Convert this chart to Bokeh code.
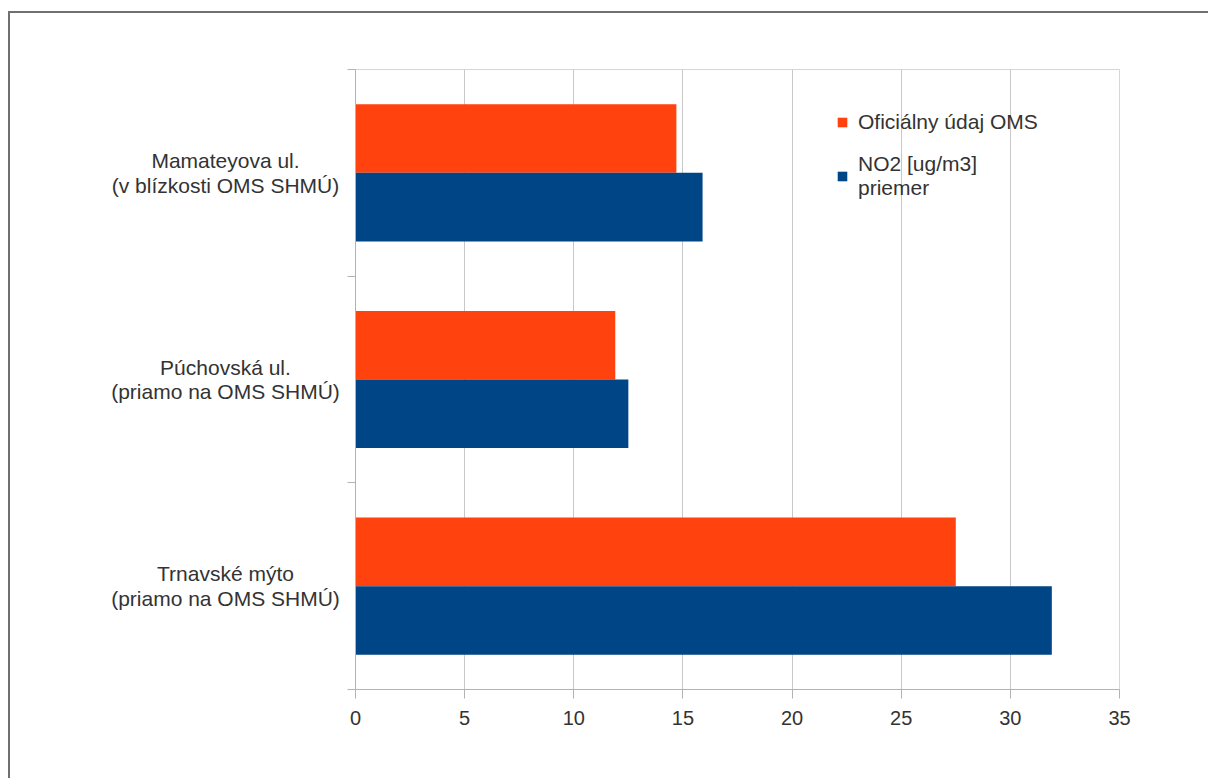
from bokeh.plotting import figure
from bokeh.models import Range1d, FixedTicker, Legend, LegendItem
from bokeh.layouts import row
from bokeh.embed import file_html
from bokeh.resources import INLINE

# ---- data ----
categories = ["Trnavské mýto\n(priamo na OMS SHMÚ)",
              "Púchovská ul.\n(priamo na OMS SHMÚ)",
              "Mamateyova ul.\n(v blízkosti OMS SHMÚ)"]
official = [27.5, 11.9, 14.7]      # Oficiálny údaj OMS
no2_mean = [31.9, 12.5, 15.9]      # NO2 [ug/m3] priemer
x_ticks = [0, 5, 10, 15, 20, 25, 30, 35]
series_names = ["Oficiálny údaj OMS", "NO2 [ug/m3]\npriemer"]

ORANGE = "#ff420e"
BLUE = "#004586"
FONT = "Liberation Sans"
TXT = "#333333"

n = len(categories)
centers = [i + 0.5 for i in range(n)]
bar_h = 0.332
yr = Range1d(0, n)

H = 765
TOP, BOTTOM = 56, 89

# ---- main chart ----
p = figure(width=863, height=H, output_backend="svg", toolbar_location=None,
           x_range=Range1d(0, 35), y_range=yr,
           min_border_left=10, min_border_right=89,
           min_border_top=TOP, min_border_bottom=BOTTOM)

r1 = p.hbar(y=[c + bar_h / 2 for c in centers], right=official, left=0, height=bar_h,
            fill_color=ORANGE, line_color=None)
r2 = p.hbar(y=[c - bar_h / 2 for c in centers], right=no2_mean, left=0, height=bar_h,
            fill_color=BLUE, line_color=None)

p.outline_line_color = "#d6d6d6"
p.outline_line_width = 1
p.xgrid.ticker = FixedTicker(ticks=x_ticks)
p.xgrid.grid_line_color = "#c8c8c8"
p.xgrid.grid_line_width = 1
p.ygrid.grid_line_color = None

xa = p.xaxis[0]
xa.ticker = FixedTicker(ticks=x_ticks)
xa.axis_line_color = "#b3b3b3"
xa.major_tick_line_color = "#b3b3b3"
xa.major_tick_out = 9
xa.major_tick_in = 0
xa.minor_tick_line_color = None
xa.major_label_text_font = FONT
xa.major_label_text_font_size = "20px"
xa.major_label_text_color = TXT
xa.major_label_standoff = 12

ya = p.yaxis[0]
ya.ticker = FixedTicker(ticks=[], minor_ticks=list(range(n + 1)))
ya.axis_line_color = "#b3b3b3"
ya.major_tick_line_color = None
ya.minor_tick_line_color = "#b3b3b3"
ya.minor_tick_out = 8
ya.minor_tick_in = 0
ya.major_label_text_font_size = "0px"

legend = Legend(items=[LegendItem(label=series_names[0], renderers=[r1]),
                       LegendItem(label=series_names[1], renderers=[r2])],
                location=(481, 489), orientation="vertical")
legend.border_line_color = None
legend.background_fill_alpha = 0
legend.padding = 0
legend.margin = 0
legend.spacing = 18
legend.glyph_width = 12
legend.glyph_height = 12
legend.label_standoff = 10
legend.label_text_font = FONT
legend.label_text_font_size = "21px"
legend.label_text_color = TXT
legend.label_text_line_height = 1.1
p.add_layout(legend)

# ---- category label panel (shares the y range) ----
lab = figure(width=335, height=H, output_backend="svg", toolbar_location=None,
             x_range=Range1d(0, 335), y_range=yr,
             min_border_left=0, min_border_right=0,
             min_border_top=TOP, min_border_bottom=BOTTOM)
lab.axis.visible = False
lab.grid.visible = False
lab.outline_line_color = None
lab.text(x=[215] * n, y=centers, text=categories, text_align="center",
         text_baseline="middle", text_font={"value": FONT},
         text_font_size="21px", text_color=TXT, text_line_height=1.07)

layout = row(lab, p)
layout.styles = {"margin-left": "8px", "margin-top": "11px",
                 "border-left": "2px solid #707070", "border-top": "2px solid #707070"}

open("out.html", "w").write(file_html(layout, INLINE))
